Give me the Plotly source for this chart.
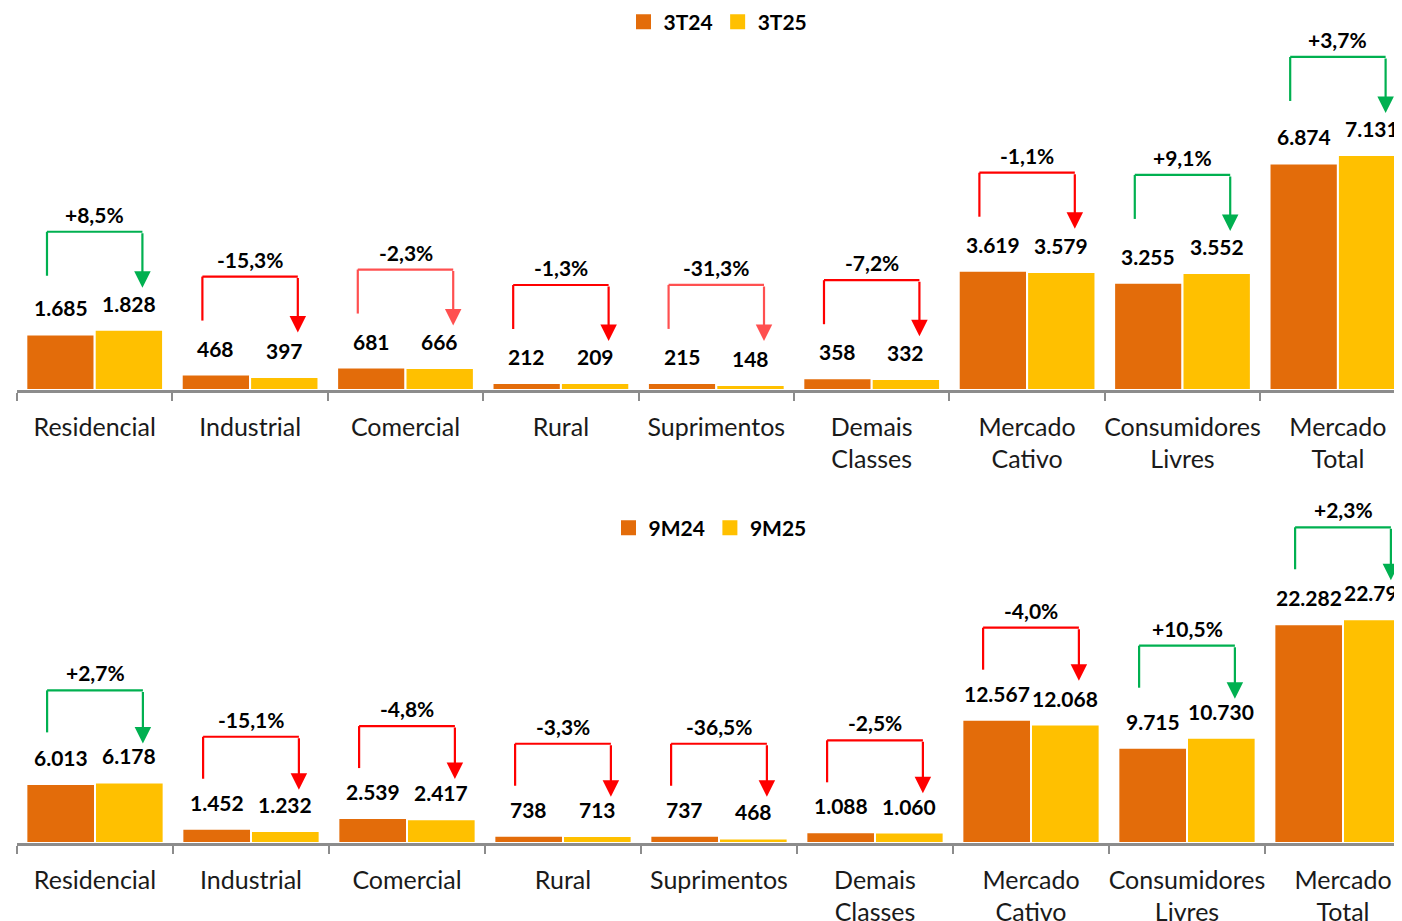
import plotly.graph_objects as go
from plotly.subplots import make_subplots

# ---- data (GWh) ----
categories = [
    "Residencial", "Industrial", "Comercial", "Rural", "Suprimentos",
    "Demais<br>Classes", "Mercado<br>Cativo", "Consumidores<br>Livres",
    "Mercado<br>Total",
]

quarter_names = ["3T24", "3T25"]
quarter_prev = [1685, 468, 681, 212, 215, 358, 3619, 3255, 6874]
quarter_curr = [1828, 397, 666, 209, 148, 332, 3579, 3552, 7131]
quarter_change = ["+8,5%", "-15,3%", "-2,3%", "-1,3%", "-31,3%",
                  "-7,2%", "-1,1%", "+9,1%", "+3,7%"]

ytd_names = ["9M24", "9M25"]
ytd_prev = [6013, 1452, 2539, 738, 737, 1088, 12567, 9715, 22282]
ytd_curr = [6178, 1232, 2417, 713, 468, 1060, 12068, 10730, 22798]
ytd_change = ["+2,7%", "-15,1%", "-4,8%", "-3,3%", "-36,5%",
              "-2,5%", "-4,0%", "+10,5%", "+2,3%"]

# ---- styling ----
W, H = 1402, 921
PAGE = 8          # browser body margin: the figure starts 8px in
ORANGE = "#E36C0A"
YELLOW = "#FFC000"
GREEN = "#00B050"
RED = "#FF0000"
LIGHT_RED = "#FF5050"
AXIS_GRAY = "#8C8C8C"
FONT = "Lato"
BARGAP = 0.12
LEFT = 17 - PAGE

# the quarterly chart uses a lighter red on two of its arrows
quarter_arrow_red = [RED, RED, LIGHT_RED, RED, LIGHT_RED, RED, RED, RED, RED]
ytd_arrow_red = [RED] * 9

fig = make_subplots(rows=2, cols=1)

# panel geometry in window pixels (top of plot area, baseline), y-range max
# and category pitch
panels = [
    dict(row=1, names=quarter_names, prev=quarter_prev, curr=quarter_curr,
         change=quarter_change, reds=quarter_arrow_red,
         top_px=20, base_px=390, ymax=11226, pitch=155.4,
         lift=98, left_drop=44, tip_drop=56, legend_y_px=22, legend_x_px=718),
    dict(row=2, names=ytd_names, prev=ytd_prev, curr=ytd_curr,
         change=ytd_change, reds=ytd_arrow_red,
         top_px=495, base_px=843, ymax=35463, pitch=156.0,
         lift=92, left_drop=42, tip_drop=53, legend_y_px=528, legend_x_px=710),
]

half_group = (1 - BARGAP) / 2
bar_off = half_group / 2
bracket_half = 0.307

for p in panels:
    r = p["row"]
    legend_id = "legend" if r == 1 else "legend2"
    xref = "x" if r == 1 else "x2"
    yref = "y" if r == 1 else "y2"
    u = p["ymax"] / (p["base_px"] - p["top_px"])  # data units per pixel

    for name, vals, color in ((p["names"][0], p["prev"], ORANGE),
                              (p["names"][1], p["curr"], YELLOW)):
        fig.add_trace(go.Bar(
            x=categories, y=vals, name=name, marker_color=color,
            marker_line=dict(color="white", width=2),
            showlegend=False, hoverinfo="skip",
        ), row=r, col=1)
        # legend-only entry with a bigger square swatch
        fig.add_trace(go.Scatter(
            x=[None], y=[None], mode="markers", name=f"<b>{name}</b>",
            marker=dict(symbol="square", size=15, color=color),
            legend=legend_id, hoverinfo="skip",
        ), row=r, col=1)

    for i, (a, b, chg, red) in enumerate(zip(p["prev"], p["curr"],
                                             p["change"], p["reds"])):
        # value labels above each bar
        for x, v in ((i - bar_off, a), (i + bar_off, b)):
            fig.add_annotation(
                x=x, y=v, xref=xref, yref=yref, showarrow=False,
                text=f"<b>{v:,}</b>".replace(",", "."), yanchor="bottom",
                yshift=12, font=dict(family=FONT, size=21, color="black"),
            )
        color = GREEN if chg.startswith("+") else red
        top = max(a, b) + p["lift"] * u
        xl, xr = i - bracket_half, i + bracket_half
        line = dict(color=color, width=2.2)
        fig.add_shape(type="line", xref=xref, yref=yref, x0=xl, x1=xl,
                      y0=top - p["left_drop"] * u, y1=top, line=line)
        fig.add_shape(type="line", xref=xref, yref=yref, x0=xl, x1=xr,
                      y0=top, y1=top, line=line)
        fig.add_annotation(
            x=xr, y=top - p["tip_drop"] * u, ax=xr, ay=top,
            xref=xref, yref=yref, axref=xref, ayref=yref, text="",
            showarrow=True, arrowhead=2, arrowsize=1.5, arrowwidth=2.2,
            arrowcolor=color, standoff=0,
        )
        fig.add_annotation(
            x=i, y=top, xref=xref, yref=yref, showarrow=False,
            text=f"<b>{chg}</b>", yanchor="bottom", yshift=3,
            font=dict(family=FONT, size=21, color="black"),
        )

    dom = [1 - (p["base_px"] - PAGE) / H, 1 - (p["top_px"] - PAGE) / H]
    xmax = -0.5 + (W - LEFT) / p["pitch"]
    fig.update_yaxes(domain=dom, range=[0, p["ymax"]], visible=False,
                     row=r, col=1)
    fig.update_xaxes(
        range=[-0.5, xmax], showline=True, linecolor=AXIS_GRAY,
        linewidth=2.5, ticks="outside", tickson="boundaries", ticklen=8,
        tickwidth=2, tickcolor=AXIS_GRAY, showgrid=False, automargin=False,
        tickangle=0, ticklabelstandoff=13,
        tickfont=dict(family=FONT, size=25, color="#1a1a1a"),
        row=r, col=1,
    )
    fig.update_layout({legend_id: dict(
        orientation="h", x=(p["legend_x_px"] - 17) / (W - LEFT),
        xanchor="center", y=1 - (p["legend_y_px"] - PAGE) / H,
        yanchor="middle", font=dict(family=FONT, size=21, color="black"),
        bgcolor="rgba(0,0,0,0)", itemwidth=30, tracegroupgap=0,
    )})

fig.update_layout(
    width=W, height=H, barmode="group", bargap=BARGAP, bargroupgap=0,
    margin=dict(l=LEFT, r=0, t=0, b=0, autoexpand=False),
    paper_bgcolor="white", plot_bgcolor="white",
    font=dict(family=FONT), showlegend=True,
)

fig.write_html("out.html")
